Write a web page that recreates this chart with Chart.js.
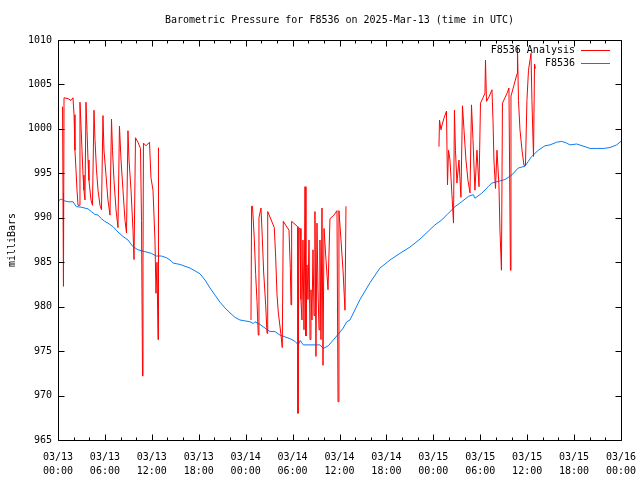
<!DOCTYPE html>
<html>
<head>
<meta charset="utf-8">
<script src="https://cdn.jsdelivr.net/npm/chart.js@4.4.1/dist/chart.umd.min.js"></script>
<style>
html,body{margin:0;padding:0;background:#fff;}
#wrap{width:640px;height:480px;}
</style>
</head>
<body>
<div id="wrap"><canvas id="c" width="640" height="480"></canvas></div>
<script>
// ---- data (hours since 2025-03-13 00:00 UTC) ----
const chartTitle = "Barometric Pressure for F8536 on 2025-Mar-13 (time in UTC)";
const yAxisTitle = "milliBars";
const seriesNames = ["F8536 Analysis", "F8536"];

const xTickDates = ["03/13","03/13","03/13","03/13","03/14","03/14","03/14","03/14","03/15","03/15","03/15","03/15","03/16"];
const xTickTimes = ["00:00","06:00","12:00","18:00","00:00","06:00","12:00","18:00","00:00","06:00","12:00","18:00","00:00"];

const analysisHours = [
 0.58,0.64,0.70,0.77,1.28,1.66,1.92,2.05,2.17,2.30,2.43,2.56,2.75,2.81,2.94,3.07,3.20,3.32,3.45,
 3.58,3.71,3.84,3.96,4.22,4.41,4.60,4.73,4.92,5.12,5.37,5.56,5.75,5.88,6.14,6.39,6.65,
 6.84,6.97,7.16,7.42,7.67,7.86,8.06,8.31,8.57,8.76,8.95,9.08,9.34,9.59,9.72,
 9.91,10.23,10.55,10.68,10.81,10.87,10.93,11.25,11.70,11.89,12.15,12.40,12.53,12.66,12.79,12.85,
 18.0,
 24.68,24.76,24.87,25.10,25.28,25.45,25.61,25.70,25.96,26.13,26.30,26.56,26.73,26.82,27.66,27.84,28.01,28.17,
 28.52,28.68,28.81,29.54,29.71,29.80,29.88,30.65,30.69,30.82,30.95,31.07,31.20,31.33,31.46,31.59,31.71,
 31.84,31.97,32.10,32.23,32.35,32.48,32.61,32.74,32.86,32.99,33.12,33.25,33.38,33.50,33.63,33.76,33.89,
 34.02,34.27,34.53,34.78,35.29,35.68,35.81,35.93,36.19,36.45,36.70,36.83,
 43.0,
 48.72,48.79,48.98,49.10,49.36,49.68,49.81,49.94,50.13,50.38,50.58,50.70,50.83,51.02,51.28,51.53,
 51.73,51.92,52.17,52.43,52.69,52.88,53.07,53.32,53.58,53.84,54.03,54.35,54.60,54.67,54.80,55.12,
 55.50,55.63,55.75,55.95,56.14,56.39,56.52,56.71,56.84,57.16,57.42,57.67,57.86,57.93,58.31,58.70,
 58.76,58.89,59.08,59.34,59.59,59.78,59.97,60.17,60.49,60.61,60.81,60.94,61.06
];
const analysisValues = [
 1002.5,992.8,982.3,1003.5,1003.4,1003.2,1003.5,1001.6,997.6,995.4,993.1,991.4,991.4,1003.0,1000.4,997.6,994.8,993.1,992.0,
 1003.0,999.8,996.5,994.2,992.0,991.4,1002.1,998.8,995.4,993.1,991.4,990.9,1001.5,997.6,994.8,992.0,990.3,
 1001.1,997.6,994.2,990.9,988.9,1000.3,996.5,993.1,989.7,988.3,999.8,996.5,993.1,988.6,985.3,
 999.0,998.5,997.8,989.7,972.2,984.9,998.4,998.1,998.5,994.5,993.1,987.5,981.5,985.0,976.3,997.9,
 null,
 978.5,991.3,991.3,987.7,983.6,980.6,976.8,990.0,991.1,987.7,983.9,980.2,977.0,990.7,988.9,985.5,981.3,979.4,
 976.8,975.4,989.6,988.6,984.3,980.2,989.6,989.0,968.0,988.8,988.8,980.8,978.5,987.5,977.4,993.5,976.7,
 984.7,980.8,987.5,976.3,981.9,978.5,986.4,979.0,990.7,974.4,989.4,981.9,977.4,987.5,976.3,991.1,973.4,
 988.8,985.3,981.9,989.9,990.3,990.8,969.3,990.8,987.5,984.1,979.6,991.3,
 null,
 998.0,1001.0,999.9,1000.4,1001.2,1002.0,993.7,997.6,996.5,992.6,989.4,1002.1,997.6,993.9,996.5,992.3,
 1002.6,999.9,996.5,994.2,992.8,1002.7,998.8,993.1,997.6,993.5,1002.9,1003.5,1004.0,1007.75,1003.1,1003.6,
 1004.4,1001.0,996.5,993.3,997.6,993.7,988.6,984.1,1002.9,1003.5,1004.0,1004.6,984.1,1003.7,1004.9,1006.2,
 1009.2,1003.2,999.9,997.6,995.9,995.9,1003.2,1006.6,1008.5,1003.2,996.9,1007.3,1006.8
];

const stationHours = [
 0.00,0.42,0.86,1.28,1.92,2.34,2.94,3.84,4.26,4.69,5.12,5.54,5.97,6.39,7.03,7.67,8.31,8.95,9.59,10.23,
 11.09,11.93,12.57,13.21,13.90,14.32,14.74,15.60,16.88,18.16,18.80,19.44,20.08,20.72,21.36,22.00,22.63,
 23.27,23.91,24.55,24.97,25.19,25.83,26.47,27.11,27.75,28.39,29.03,29.67,30.31,30.73,30.98,31.37,32.86,
 33.50,33.93,34.57,35.20,35.84,36.48,36.92,37.34,38.62,39.90,41.18,42.46,43.73,45.01,46.29,48.21,49.07,
 49.91,50.77,51.62,52.47,53.11,53.32,54.18,55.02,55.46,56.30,57.16,58.02,58.86,59.72,60.58,61.42,62.28,
 62.92,63.77,64.41,65.05,65.47,66.33,67.39,68.03,68.89,69.73,70.59,71.45,72.00
];
const stationValues = [
 991.9,992.1,991.9,991.8,991.8,991.25,991.2,991.0,990.7,990.4,990.3,989.9,989.6,989.4,989.0,988.4,987.9,987.5,986.75,986.4,
 986.2,986.0,985.7,985.7,985.5,985.25,984.9,984.75,984.35,983.7,983.0,982.1,981.3,980.5,979.85,979.3,978.8,
 978.5,978.4,978.3,978.1,978.3,978.0,977.6,977.2,977.2,976.8,976.6,976.4,976.1,975.7,976.2,975.7,975.7,
 975.7,975.3,975.6,976.25,976.9,977.6,978.3,978.5,980.8,982.7,984.35,985.25,986.0,986.7,987.6,989.2,989.75,
 990.5,991.25,991.8,992.4,992.6,992.2,992.75,993.5,993.9,994.1,994.3,994.8,995.6,995.8,996.9,997.6,998.1,
 998.2,998.5,998.6,998.4,998.2,998.3,998.0,997.8,997.8,997.8,997.9,998.2,998.6
];

const colors = ["#ff0000", "#0a7cf5"];
const FONT = "'DejaVu Sans Mono', 'Liberation Mono', monospace";

function toPoints(xs, ys){ return xs.map((x,i)=>({x:x, y:ys[i]})); }

const frame = {
  id: 'frame',
  afterDraw(chart){
    const ctx = chart.ctx, a = chart.chartArea;
    const xs = chart.scales.x, ys = chart.scales.y;
    ctx.save();
    ctx.strokeStyle = '#000';
    ctx.lineWidth = 1;
    const L = Math.round(a.left)+0.5, R = Math.round(a.right)+0.5, T = Math.round(a.top)+0.5, B = Math.round(a.bottom)+0.5;
    ctx.beginPath();
    ctx.rect(L, T, R-L, B-T);
    // x ticks (major every 6 h, minor every 2 h)
    for (let h = 0; h <= 72; h += 2) {
      const px = Math.round(xs.getPixelForValue(h)) + 0.5;
      const len = (h % 6 === 0) ? 6 : 3;
      ctx.moveTo(px, B); ctx.lineTo(px, B - len);
      ctx.moveTo(px, T); ctx.lineTo(px, T + len);
    }
    for (let v = 965; v <= 1010; v += 5) {
      const py = Math.round(ys.getPixelForValue(v)) + 0.5;
      ctx.moveTo(L, py); ctx.lineTo(L + 6, py);
      ctx.moveTo(R, py); ctx.lineTo(R - 6, py);
    }
    ctx.stroke();
    // title
    ctx.fillStyle = '#000';
    ctx.font = "10px " + FONT;
    ctx.textAlign = 'center';
    ctx.textBaseline = 'middle';
    ctx.fillText(chartTitle, (a.left + a.right) / 2, 20);
    // legend
    ctx.textAlign = 'right';
    chart.data.datasets.forEach((ds, i) => {
      const y = 50 + i * 13;
      ctx.fillStyle = '#000';
      ctx.fillText(ds.label, 575, y);
      ctx.strokeStyle = ds.borderColor;
      ctx.beginPath();
      ctx.moveTo(581, y + 0.5); ctx.lineTo(610, y + 0.5);
      ctx.stroke();
    });
    ctx.restore();
  }
};

new Chart(document.getElementById('c'), {
  type: 'line',
  data: {
    datasets: [
      { label: seriesNames[0], data: toPoints(analysisHours, analysisValues), borderColor: colors[0], borderWidth: 1, pointRadius: 0, tension: 0, spanGaps: false, fill: false },
      { label: seriesNames[1], data: toPoints(stationHours, stationValues), borderColor: colors[1], borderWidth: 1, pointRadius: 0, tension: 0, spanGaps: false, fill: false }
    ]
  },
  options: {
    responsive: false,
    animation: false,
    events: [],
    layout: { padding: { top: 40, right: 19, left: 0, bottom: 0 } },
    plugins: { legend: { display: false }, title: { display: false }, tooltip: { enabled: false } },
    scales: {
      x: {
        type: 'linear', min: 0, max: 72,
        grid: { display: false, drawTicks: false },
        border: { display: false },
        ticks: {
          stepSize: 6, autoSkip: false, maxRotation: 0, minRotation: 0, padding: 10,
          color: '#000', font: { family: FONT, size: 10, lineHeight: 1.4 },
          callback: (v) => { const i = Math.round(v / 6); return [xTickDates[i], xTickTimes[i]]; }
        },
        afterFit: (s) => { s.height = 40; s.paddingLeft = 0; s.paddingRight = 0; }
      },
      y: {
        min: 965, max: 1010,
        grid: { display: false, drawTicks: false },
        border: { display: false },
        ticks: { stepSize: 5, padding: 6, color: '#000', font: { family: FONT, size: 10 }, callback: (v) => String(v) },
        title: { display: true, text: yAxisTitle, color: '#000', font: { family: FONT, size: 10, lineHeight: 1.2 }, padding: { top: 6, bottom: 0 } },
        afterFit: (s) => { s.width = 58; s.paddingTop = 0; s.paddingBottom = 0; }
      }
    }
  },
  plugins: [frame]
});
</script>
</body>
</html>
